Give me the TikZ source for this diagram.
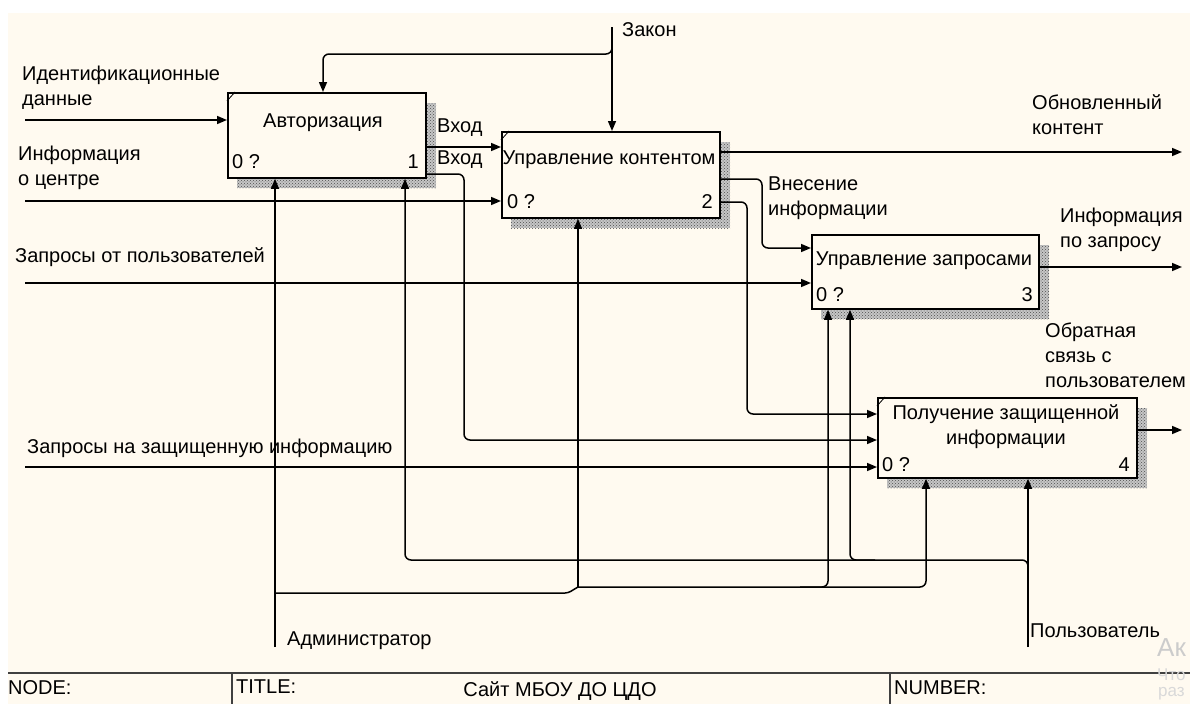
\documentclass[tikz,border=0pt]{standalone}
\usepackage{fontspec}
\setmainfont{Liberation Sans}
\usetikzlibrary{arrows.meta,patterns}
\definecolor{bg}{RGB}{255,250,240}
\begin{document}
\begin{tikzpicture}[x=1pt,y=-1pt,
  every node/.style={font=\fontsize{20}{25}\selectfont, inner sep=0pt, text=black},
  lbl/.style={anchor=west, align=left},
  flow/.style={line width=1.5pt, rounded corners=6pt, -{Triangle[length=10pt,width=8pt]}},
  pipe/.style={line width=1.5pt, rounded corners=6pt},
  proc/.style={draw, line width=1.8pt, fill=bg, anchor=north west},
  shadebase/.style={fill=gray!45},
  shade/.style={pattern=crosshatch dots, pattern color=black!70},
  cornermark/.style={line width=0.8pt},
  wm/.style={anchor=west, text=gray!40},
]
\useasboundingbox (0,0) rectangle (1190,704);
\fill[white] (0,0) rectangle (1190,704);
\fill[bg] (8,13) rectangle (1190,704);

% shadows
\foreach \r in {{(237,103) rectangle (436,188)},{(511,142) rectangle (730,228)},{(821,245) rectangle (1049,319)},{(887,408) rectangle (1147,488)}}{
  \fill[shadebase] \r;
  \fill[shade] \r;
}

% boxes
\node[proc, minimum width=198pt, minimum height=85pt] (b1) at (227,92) {};
\node[proc, minimum width=218pt, minimum height=86pt] (b2) at (501,131) {};
\node[proc, minimum width=227pt, minimum height=74pt] (b3) at (811,234) {};
\node[proc, minimum width=259pt, minimum height=80pt] (b4) at (877,397) {};
\draw[cornermark] (b1.north west) ++(0,9) -- ++(8,-9);
\draw[cornermark] (b2.north west) ++(0,9) -- ++(8,-9);
\draw[cornermark] (b4.north west) ++(0,9) -- ++(8,-9);

% box texts
\node (n1) at (323,123) {Авторизация};
\node[anchor=west] (q1) at (232,162) {0 ?};
\node[anchor=east] (k1) at (419,162) {1};
\node (n2) at (609,160) {Управление контентом};
\node[anchor=west] (q2) at (507,202) {0 ?};
\node[anchor=east] (k2) at (713,202) {2};
\node (n3) at (924,261) {Управление запросами};
\node[anchor=west] (q3) at (816,295) {0 ?};
\node[anchor=east] (k3) at (1033,295) {3};
\node[align=center] (n4) at (1006,427) {Получение защищенной\\информации};
\node[anchor=west] (q4) at (882,465) {0 ?};
\node[anchor=east] (k4) at (1130,465) {4};

% inputs
\coordinate (in1) at (25,120);
\coordinate (in2) at (25,201);
\coordinate (in3) at (25,283);
\coordinate (in4) at (25,467);
\draw[flow] (in1) -- (in1 -| b1.west);
\draw[flow] (in2) -- (in2 -| b2.west);
\draw[flow] (in3) -- (in3 -| b3.west);
\draw[flow] (in4) -- (in4 -| b4.west);
\node[lbl] (l1) at (22,88) {Идентификационные\\данные};
\node[lbl] (l2) at (18,168) {Информация\\о центре};
\node[lbl] (l3) at (15,257) {Запросы от пользователей};
\node[lbl] (l4) at (27,448) {Запросы на защищенную информацию};

% control
\coordinate (zk) at (612,27);
\coordinate (zc) at (323,54);
\draw[flow] (zk) -- (zk |- b2.north);
\draw[flow] (612,40) -- (612,54) -- (zc) -- (zc |- b1.north);
\node[lbl] (lz) at (622,30) {Закон};

% box1 outputs
\coordinate (v1) at (464,174);
\draw[flow] (b1.east |- 0,147) -- (b2.west |- 0,147);
\draw[flow] (v1 -| b1.east) -- (v1) -- (464,440) -- (b4.west |- 0,440);
\node[lbl] (lv1) at (437,128) {Вход};
\node[lbl] (lv2) at (437,160) {Вход};

% box2 outputs
\coordinate (out1) at (1182,152);
\coordinate (vn) at (762,179);
\coordinate (vk) at (747,202);
\draw[flow] (out1 -| b2.east) -- (out1);
\draw[flow] (vn -| b2.east) -- (vn) -- (762,248) -- (b3.west |- 0,248);
\draw[flow] (vk -| b2.east) -- (vk) -- (747,414) -- (b4.west |- 0,414);
\node[lbl] (lo1) at (1032,115) {Обновленный\\контент};
\node[lbl] (lvn) at (768,198) {Внесение\\информации};

% box3, box4 outputs
\coordinate (out2) at (1182,267);
\coordinate (out3) at (1182,430);
\draw[flow] (out2 -| b3.east) -- (out2);
\draw[flow] (out3 -| b4.east) -- (out3);
\node[lbl] (lo2) at (1060,230) {Информация\\по запросу};
\node[lbl] (lo3) at (1045,355) {Обратная\\связь с\\пользователем};

% mechanisms: administrator
\coordinate (adm) at (275,647);
\coordinate (aj) at (578,587);
\draw[flow] (adm) -- (adm |- b1.south);
\draw[pipe, rounded corners=3pt] (275,593) -- (568,593) -- (aj);
\draw[flow] (aj) -- (aj |- b2.south);
\draw[flow] (aj) -- (926,587) -- (926,0 |- b4.south);
\draw[flow] (800,587) -- (828,587) -- (828,0 |- b3.south);
\node[lbl] (la) at (287,641) {Администратор};

% mechanisms: user
\coordinate (usr) at (1028,647);
\draw[flow] (usr) -- (usr |- b4.south);
\draw[flow] (1028,575) -- (1028,560) -- (405,560) -- (405,0 |- b1.south);
\draw[flow] (875,560) -- (850,560) -- (850,0 |- b3.south);
\node[lbl] (lu) at (1030,631) {Пользователь};

% title block
\draw[line width=2pt, black!75] (8,673) -- (1190,673);
\draw[line width=2pt, black!75] (232,673) -- (232,704);
\draw[line width=2pt, black!75] (890,673) -- (890,704);
\node[lbl] (tn) at (8,688) {NODE:};
\node[lbl] (tt) at (236,687) {TITLE:};
\node (ts) at (560,691) {Сайт МБОУ ДО ЦДО};
\node[lbl] (tnum) at (894,688) {NUMBER:};

% watermark fragments
\node[wm, font=\fontsize{26}{26}\selectfont] (w1) at (1157,648) {Ак};
\node[wm, text=gray!30, font=\fontsize{17}{17}\selectfont] (w2) at (1157,675) {Что};
\node[wm, text=gray!30, font=\fontsize{17}{17}\selectfont] (w3) at (1158,694) {раз};
\end{tikzpicture}
\end{document}
